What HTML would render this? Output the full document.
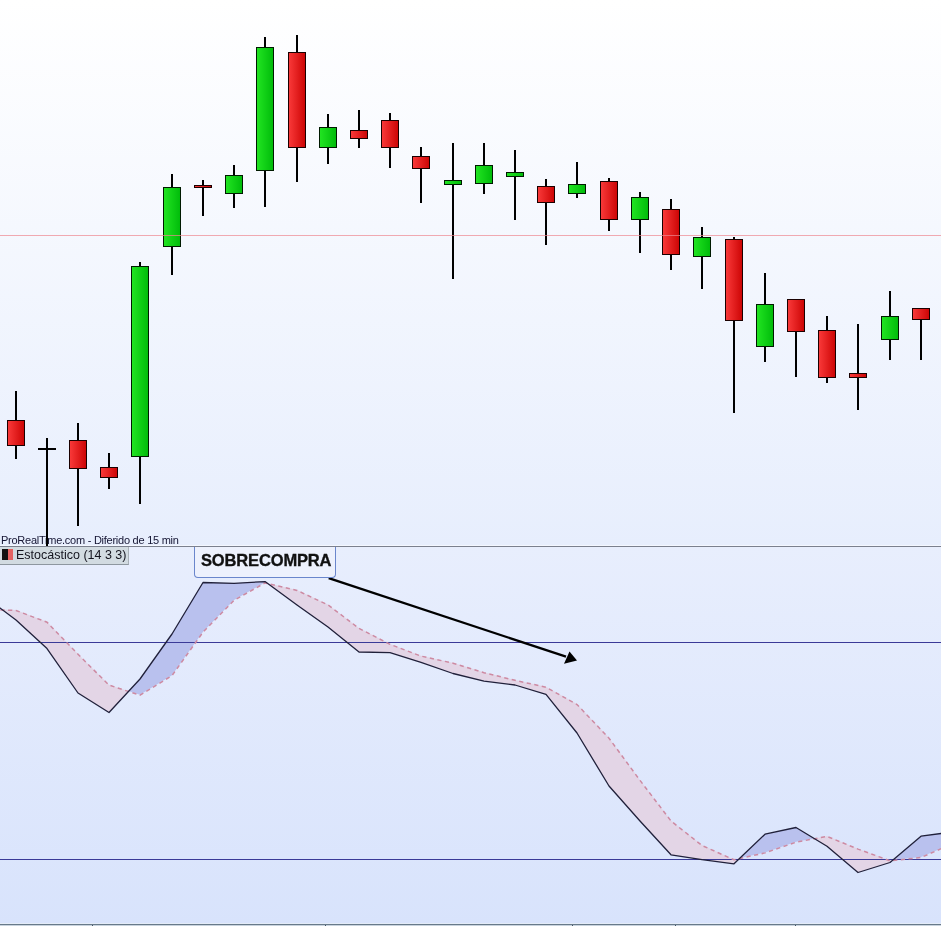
<!DOCTYPE html>
<html><head><meta charset="utf-8">
<style>
html,body{margin:0;padding:0;background:#fff;}
body{width:941px;height:926px;overflow:hidden;position:relative;font-family:"Liberation Sans",sans-serif;}
svg{position:absolute;left:0;top:0;}
.t1{position:absolute;left:1px;top:534px;font-size:11px;color:#141432;white-space:nowrap;letter-spacing:-0.25px;will-change:transform;}
.leg{position:absolute;left:0;top:547px;width:129px;height:18px;background:#d2dbe1;border-bottom:1px solid #8e979f;border-right:1px solid #a9b1b8;box-sizing:border-box;}
.leg .ic1{position:absolute;left:2px;top:2px;width:6px;height:11px;background:#111;}
.leg .ic2{position:absolute;left:8px;top:2px;width:5px;height:11px;background:#e46262;}
.leg .tx{position:absolute;left:16px;top:1px;font-size:12.5px;color:#14141e;white-space:nowrap;will-change:transform;}
.box{position:absolute;left:194px;top:547px;width:142px;height:31px;box-sizing:border-box;border:1px solid #6a86cc;border-top:none;border-radius:0 0 4px 4px;background:#edf1fd;}
.box span{position:absolute;left:6px;top:4px;font-size:16.5px;font-weight:bold;color:#111;white-space:nowrap;-webkit-text-stroke:0.35px #111;letter-spacing:-0.15px;will-change:transform;}
</style></head><body>
<svg width="941" height="926" viewBox="0 0 941 926">
<defs>
<linearGradient id="bgTop" x1="0" y1="0" x2="0" y2="1">
<stop offset="0" stop-color="#ffffff"/><stop offset="1" stop-color="#e7eefd"/></linearGradient>
<linearGradient id="bgBot" x1="0" y1="0" x2="0" y2="1">
<stop offset="0" stop-color="#e8eefd"/><stop offset="1" stop-color="#d8e3fc"/></linearGradient>
<linearGradient id="gr" x1="0" y1="0" x2="1" y2="0">
<stop offset="0" stop-color="#fa3a3a"/><stop offset="1" stop-color="#cc0404"/></linearGradient>
<linearGradient id="gg" x1="0" y1="0" x2="1" y2="0">
<stop offset="0" stop-color="#22e522"/><stop offset="1" stop-color="#00bb0a"/></linearGradient>
</defs>
<rect x="0" y="0" width="941" height="546" fill="url(#bgTop)"/>
<rect x="0" y="546" width="941" height="380" fill="url(#bgBot)"/>
<rect x="15" y="391" width="2" height="68" fill="#000"/>
<rect x="7.5" y="420.5" width="17" height="25" fill="url(#gr)" stroke="#1a0000" stroke-width="1"/>
<rect x="46" y="438" width="2" height="108" fill="#000"/>
<rect x="38" y="448" width="18" height="2" fill="#000"/>
<rect x="77" y="423" width="2" height="103" fill="#000"/>
<rect x="69.5" y="440.5" width="17" height="28" fill="url(#gr)" stroke="#1a0000" stroke-width="1"/>
<rect x="108" y="453" width="2" height="36" fill="#000"/>
<rect x="100.5" y="467.5" width="17" height="10" fill="url(#gr)" stroke="#1a0000" stroke-width="1"/>
<rect x="139" y="262" width="2" height="242" fill="#000"/>
<rect x="131.5" y="266.5" width="17" height="190" fill="url(#gg)" stroke="#001a00" stroke-width="1"/>
<rect x="171" y="174" width="2" height="101" fill="#000"/>
<rect x="163.5" y="187.5" width="17" height="59" fill="url(#gg)" stroke="#001a00" stroke-width="1"/>
<rect x="202" y="180" width="2" height="36" fill="#000"/>
<rect x="194.5" y="185.5" width="17" height="2" fill="url(#gr)" stroke="#1a0000" stroke-width="1"/>
<rect x="233" y="165" width="2" height="43" fill="#000"/>
<rect x="225.5" y="175.5" width="17" height="18" fill="url(#gg)" stroke="#001a00" stroke-width="1"/>
<rect x="264" y="37" width="2" height="170" fill="#000"/>
<rect x="256.5" y="47.5" width="17" height="123" fill="url(#gg)" stroke="#001a00" stroke-width="1"/>
<rect x="296" y="35" width="2" height="147" fill="#000"/>
<rect x="288.5" y="52.5" width="17" height="95" fill="url(#gr)" stroke="#1a0000" stroke-width="1"/>
<rect x="327" y="114" width="2" height="50" fill="#000"/>
<rect x="319.5" y="127.5" width="17" height="20" fill="url(#gg)" stroke="#001a00" stroke-width="1"/>
<rect x="358" y="110" width="2" height="38" fill="#000"/>
<rect x="350.5" y="130.5" width="17" height="8" fill="url(#gr)" stroke="#1a0000" stroke-width="1"/>
<rect x="389" y="113" width="2" height="55" fill="#000"/>
<rect x="381.5" y="120.5" width="17" height="27" fill="url(#gr)" stroke="#1a0000" stroke-width="1"/>
<rect x="420" y="147" width="2" height="56" fill="#000"/>
<rect x="412.5" y="156.5" width="17" height="12" fill="url(#gr)" stroke="#1a0000" stroke-width="1"/>
<rect x="452" y="143" width="2" height="136" fill="#000"/>
<rect x="444.5" y="180.5" width="17" height="4" fill="url(#gg)" stroke="#001a00" stroke-width="1"/>
<rect x="483" y="143" width="2" height="51" fill="#000"/>
<rect x="475.5" y="165.5" width="17" height="18" fill="url(#gg)" stroke="#001a00" stroke-width="1"/>
<rect x="514" y="150" width="2" height="70" fill="#000"/>
<rect x="506.5" y="172.5" width="17" height="4" fill="url(#gg)" stroke="#001a00" stroke-width="1"/>
<rect x="545" y="179" width="2" height="66" fill="#000"/>
<rect x="537.5" y="186.5" width="17" height="16" fill="url(#gr)" stroke="#1a0000" stroke-width="1"/>
<rect x="576" y="162" width="2" height="36" fill="#000"/>
<rect x="568.5" y="184.5" width="17" height="9" fill="url(#gg)" stroke="#001a00" stroke-width="1"/>
<rect x="608" y="178" width="2" height="53" fill="#000"/>
<rect x="600.5" y="181.5" width="17" height="38" fill="url(#gr)" stroke="#1a0000" stroke-width="1"/>
<rect x="639" y="192" width="2" height="61" fill="#000"/>
<rect x="631.5" y="197.5" width="17" height="22" fill="url(#gg)" stroke="#001a00" stroke-width="1"/>
<rect x="670" y="199" width="2" height="71" fill="#000"/>
<rect x="662.5" y="209.5" width="17" height="45" fill="url(#gr)" stroke="#1a0000" stroke-width="1"/>
<rect x="701" y="227" width="2" height="62" fill="#000"/>
<rect x="693.5" y="237.5" width="17" height="19" fill="url(#gg)" stroke="#001a00" stroke-width="1"/>
<rect x="733" y="237" width="2" height="176" fill="#000"/>
<rect x="725.5" y="239.5" width="17" height="81" fill="url(#gr)" stroke="#1a0000" stroke-width="1"/>
<rect x="764" y="273" width="2" height="89" fill="#000"/>
<rect x="756.5" y="304.5" width="17" height="42" fill="url(#gg)" stroke="#001a00" stroke-width="1"/>
<rect x="795" y="299" width="2" height="78" fill="#000"/>
<rect x="787.5" y="299.5" width="17" height="32" fill="url(#gr)" stroke="#1a0000" stroke-width="1"/>
<rect x="826" y="316" width="2" height="67" fill="#000"/>
<rect x="818.5" y="330.5" width="17" height="47" fill="url(#gr)" stroke="#1a0000" stroke-width="1"/>
<rect x="857" y="324" width="2" height="86" fill="#000"/>
<rect x="849.5" y="373.5" width="17" height="4" fill="url(#gr)" stroke="#1a0000" stroke-width="1"/>
<rect x="889" y="291" width="2" height="69" fill="#000"/>
<rect x="881.5" y="316.5" width="17" height="23" fill="url(#gg)" stroke="#001a00" stroke-width="1"/>
<rect x="920" y="308" width="2" height="52" fill="#000"/>
<rect x="912.5" y="308.5" width="17" height="11" fill="url(#gr)" stroke="#1a0000" stroke-width="1"/>
<rect x="0" y="235" width="941" height="1" fill="#ee8890" fill-opacity="0.7"/>
<rect x="0" y="545" width="941" height="1" fill="#f4f7ff"/>
<rect x="0" y="546" width="941" height="1" fill="#7b808e"/>
<polygon points="-15.0,596.8 2.1,609.6 2.1,609.6 -15.0,609.0" fill="#b9c1ee"/>
<polygon points="2.1,609.6 16.0,620.0 47.0,648.6 78.0,693.0 109.0,712.5 128.8,691.2 128.8,691.2 109.0,684.7 78.0,653.9 47.0,621.8 16.0,610.1 2.1,609.6" fill="#e3d5e6"/>
<polygon points="128.8,691.2 140.0,679.0 172.0,634.0 203.0,582.5 234.0,583.3 265.0,581.6 266.7,582.9 266.7,582.9 265.0,582.5 234.0,599.9 203.0,631.8 172.0,675.2 140.0,694.8 128.8,691.2" fill="#b9c1ee"/>
<polygon points="266.7,582.9 297.0,605.0 328.0,627.0 359.0,652.0 390.0,652.6 421.0,662.4 453.0,673.5 484.0,681.1 515.0,685.0 546.0,694.3 577.0,733.0 609.0,786.0 640.0,821.0 671.0,854.8 702.0,859.6 734.0,863.8 740.0,858.1 740.0,858.1 734.0,859.4 702.0,845.1 671.0,820.6 640.0,780.0 609.0,737.8 577.0,704.1 546.0,686.8 515.0,679.9 484.0,672.3 453.0,662.8 421.0,655.7 390.0,643.9 359.0,628.0 328.0,604.5 297.0,590.0 266.7,582.9" fill="#e3d5e6"/>
<polygon points="740.0,858.1 765.0,834.2 796.0,827.5 814.1,838.4 814.1,838.4 796.0,841.8 765.0,852.5 740.0,858.1" fill="#b9c1ee"/>
<polygon points="814.1,838.4 827.0,846.2 858.0,872.5 890.0,862.5 892.8,860.1 892.8,860.1 890.0,860.4 858.0,848.7 827.0,836.0 814.1,838.4" fill="#e3d5e6"/>
<polygon points="892.8,860.1 921.0,836.2 952.0,832.0 952.0,843.6 921.0,857.1 892.8,860.1" fill="#b9c1ee"/>
<rect x="0" y="642" width="941" height="1" fill="#3a3a98"/>
<rect x="0" y="859" width="941" height="1" fill="#3a3a98"/>
<polyline points="-15.0,609.4 16.0,610.5 47.0,622.2 78.0,654.3 109.0,685.1 140.0,695.2 172.0,675.6 203.0,632.2 234.0,600.3 265.0,582.9 297.0,590.4 328.0,604.9 359.0,628.4 390.0,644.3 421.0,656.1 453.0,663.2 484.0,672.7 515.0,680.3 546.0,687.2 577.0,704.5 609.0,738.2 640.0,780.4 671.0,821.0 702.0,845.5 734.0,859.8 765.0,852.9 796.0,842.2 827.0,836.4 858.0,849.1 890.0,860.8 921.0,857.5 952.0,844.0" fill="none" stroke="#cd8aa2" stroke-width="1.5" stroke-dasharray="4.2 3.5"/>
<polyline points="-15.0,596.8 16.0,620.0 47.0,648.6 78.0,693.0 109.0,712.5 140.0,679.0 172.0,634.0 203.0,582.5 234.0,583.3 265.0,581.6 297.0,605.0 328.0,627.0 359.0,652.0 390.0,652.6 421.0,662.4 453.0,673.5 484.0,681.1 515.0,685.0 546.0,694.3 577.0,733.0 609.0,786.0 640.0,821.0 671.0,854.8 702.0,859.6 734.0,863.8 765.0,834.2 796.0,827.5 827.0,846.2 858.0,872.5 890.0,862.5 921.0,836.2 952.0,832.0" fill="none" stroke="#20203a" stroke-width="1.3" stroke-linejoin="round"/>
<line x1="328.7" y1="578.2" x2="566" y2="656.6" stroke="#000" stroke-width="2.3"/>
<polygon points="577,660.5 564,663.8 569.5,651.5" fill="#000"/>
<rect x="0" y="923" width="941" height="1" fill="#e4ecf8"/>
<rect x="0" y="924" width="941" height="1" fill="#687a8a"/>
<rect x="0" y="925" width="941" height="1" fill="#c8d3de"/>
<rect x="92" y="925" width="1" height="1" fill="#445566"/>
<rect x="325" y="925" width="1" height="1" fill="#445566"/>
<rect x="572" y="925" width="1" height="1" fill="#445566"/>
<rect x="675" y="925" width="1" height="1" fill="#445566"/>
<rect x="795" y="925" width="1" height="1" fill="#445566"/>
</svg>
<div class="t1">ProRealTime.com - Diferido de 15 min</div>
<div class="leg"><div class="ic1"></div><div class="ic2"></div><div class="tx">Estocástico (14 3 3)</div></div>
<div class="box"><span>SOBRECOMPRA</span></div>
<div style="position:absolute;left:46px;top:536px;width:2px;height:10px;background:#000;"></div>
</body></html>
